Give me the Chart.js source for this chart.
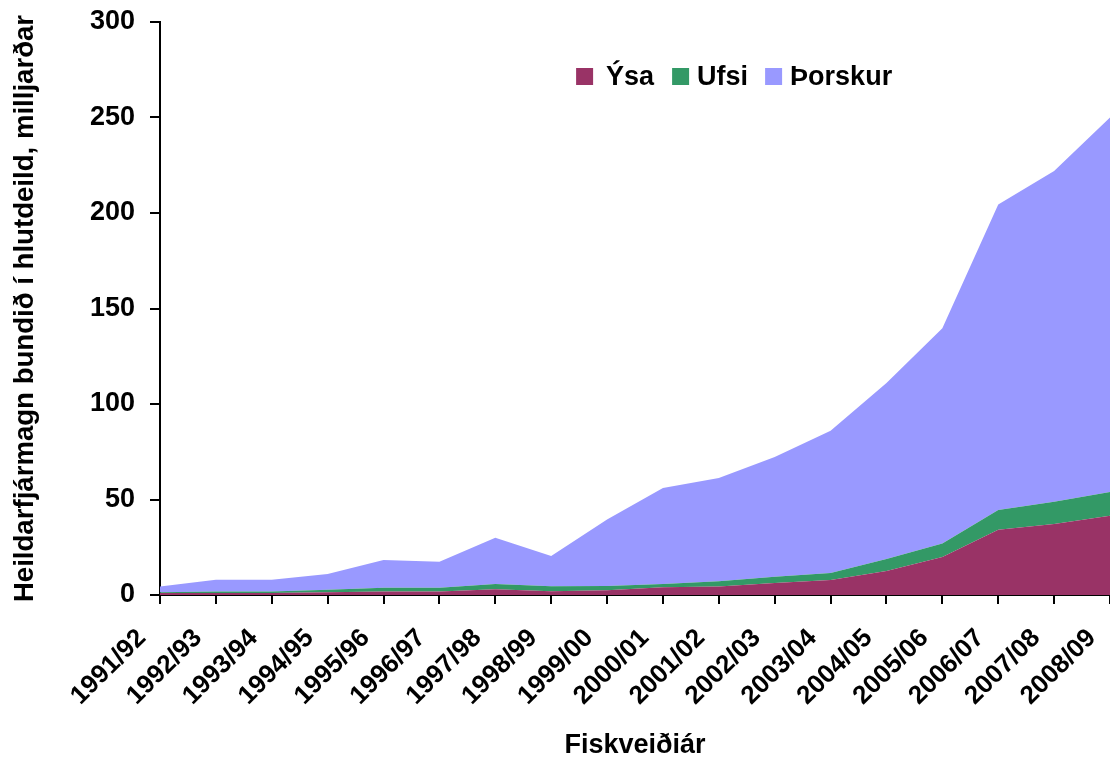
<!DOCTYPE html>
<html>
<head>
<meta charset="utf-8">
<script src="https://cdn.jsdelivr.net/npm/chart.js@4.4.0/dist/chart.umd.js"></script>
<style>
  html, body { margin: 0; padding: 0; background: #fff; }
  #wrap { position: relative; width: 1110px; height: 762px; }
</style>
</head>
<body>
<div id="wrap"><canvas id="chart" width="1110" height="762"></canvas></div>
<script>
// Fiskveiðiár (fishing years)
const years = ['1991/92', '1992/93', '1993/94', '1994/95', '1995/96', '1996/97', '1997/98', '1998/99', '1999/00',
    '2000/01', '2001/02', '2002/03', '2003/04', '2004/05', '2005/06', '2006/07', '2007/08', '2008/09'];

// milljarðar, stacked bottom -> top
const ysa = [1, 1, 1, 1.5, 1.8, 1.8, 3, 2, 2.5, 4, 4.5, 6.3, 7.9, 12.6, 19.9, 34.2, 37.2, 41.5];
const ufsi = [0.5, 0.8, 0.8, 1.2, 2, 2, 2.7, 2.6, 2.2, 1.8, 2.7, 3.3, 3.6, 6.2, 7.1, 10.3, 11.6, 12.4];
const thorskur = [3, 6.2, 6.2, 8.3, 14.5, 13.6, 24.3, 15.8, 34.8, 50.2, 54.1, 62.7, 74.5, 92.2, 112.7, 159.9, 173.2, 196.1];

const yTicks = [0, 50, 100, 150, 200, 250, 300];

const seriesNames = ['Ýsa', 'Ufsi', 'Þorskur'];
const seriesColors = ['#993366', '#339966', '#9999FF'];

const FONT = "'Liberation Sans', Arial, sans-serif";

// legend drawn inside the plot, upper right like the original
const legendPlugin = {
    id: 'insideLegend',
    afterDraw(chart) {
        const ctx = chart.ctx;
        const area = chart.chartArea;
        const startX = area.left + (area.right - area.left) * 0.438;
        const y = 77;
        const gaps = [96, 93];
        ctx.save();
        ctx.font = 'bold 27px ' + FONT;
        ctx.textBaseline = 'middle';
        ctx.textAlign = 'left';
        let x = startX;
        chart.data.datasets.forEach((ds, i) => {
            ctx.fillStyle = ds.backgroundColor;
            ctx.fillRect(x, y - 9, 17, 17);
            ctx.fillStyle = '#000';
            ctx.fillText(ds.label, x + (i === 0 ? 30 : 25), y + 1);
            x += gaps[i] || 0;
        });
        ctx.restore();
    }
};

const datasets = [ysa, ufsi, thorskur].map((vals, i) => ({
    label: seriesNames[i],
    data: vals,
    backgroundColor: seriesColors[i],
    borderWidth: 0,
    pointRadius: 0,
    fill: i === 0 ? 'origin' : '-1',
    tension: 0
}));

new Chart(document.getElementById('chart'), {
    type: 'line',
    data: { labels: years, datasets: datasets },
    options: {
        responsive: false,
        animation: false,
        layout: { padding: { top: 22, right: 0, left: 0, bottom: 0 } },
        plugins: {
            legend: { display: false },
            tooltip: { enabled: false }
        },
        scales: {
            x: {
                offset: false,
                grid: { display: true, drawOnChartArea: false, color: '#000', tickLength: 9, lineWidth: 2 },
                border: { display: true, color: '#000', width: 2 },
                ticks: {
                    color: '#000',
                    font: { family: FONT, size: 26, weight: 'bold' },
                    minRotation: 45,
                    maxRotation: 45,
                    autoSkip: false,
                    labelOffset: -18,
                    padding: 19
                },
                title: {
                    display: true,
                    text: 'Fiskveiðiár',
                    color: '#000',
                    font: { family: FONT, size: 27, weight: 'bold' },
                    padding: { top: 0, bottom: 0 }
                },
                afterFit(scale) {
                    scale.height = 167;
                    scale.paddingLeft = 0;
                    scale.paddingRight = 0;
                }
            },
            y: {
                stacked: true,
                min: 0,
                max: 300,
                afterBuildTicks(scale) {
                    scale.ticks = yTicks.map(v => ({ value: v }));
                },
                grid: { display: true, drawOnChartArea: false, color: '#000', tickLength: 10, lineWidth: 2 },
                border: { display: true, color: '#000', width: 2 },
                ticks: {
                    color: '#000',
                    font: { family: FONT, size: 27, weight: 'bold' },
                    padding: 15
                },
                title: {
                    display: true,
                    text: 'Heildarfjármagn bundið í hlutdeild, milljarðar',
                    color: '#000',
                    font: { family: FONT, size: 27.6, weight: 'bold' },
                    padding: { top: 9, bottom: 0 }
                },
                afterFit(scale) {
                    scale.width = 160;
                    scale.paddingTop = 0;
                    scale.paddingBottom = 0;
                }
            }
        }
    },
    plugins: [legendPlugin]
});
</script>
</body>
</html>
